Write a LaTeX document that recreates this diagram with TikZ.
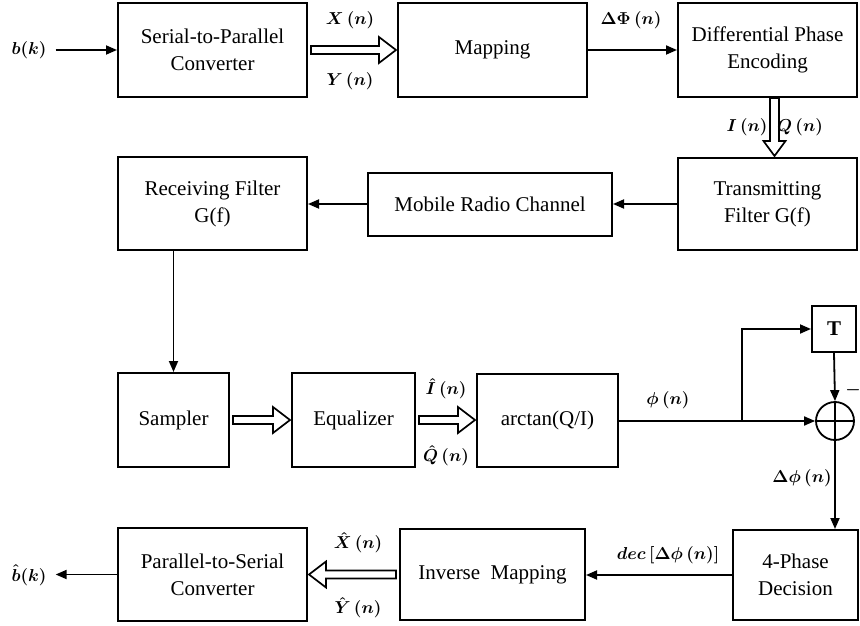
\documentclass[tikz,border=0pt]{standalone}
\usepackage{fontspec}
\setmainfont{Liberation Serif}
\usetikzlibrary{arrows.meta,calc}
\newcommand\fatR[2]{\draw[fat] let \p1=(#1.east), \p2=(#2.west) in
  (\x1+3pt,\y1+4pt) -- (\x2-18pt,\y1+4pt) -- (\x2-18pt,\y1+13pt) -- (\x2-1pt,\y1) --
  (\x2-18pt,\y1-13pt) -- (\x2-18pt,\y1-4pt) -- (\x1+3pt,\y1-4pt) -- cycle;}
\newcommand\fatL[2]{\draw[fat] let \p1=(#1.west), \p2=(#2.east) in
  (\x1-3pt,\y1+4pt) -- (\x2+18pt,\y1+4pt) -- (\x2+18pt,\y1+13pt) -- (\x2+1pt,\y1) --
  (\x2+18pt,\y1-13pt) -- (\x2+18pt,\y1-4pt) -- (\x1-3pt,\y1-4pt) -- cycle;}
\newcommand\fatD[3]{\draw[fat] let \p1=(#1.south), \p2=(#2.north) in
  (\x1+#3-4.5pt,\y1) -- (\x1+#3-4.5pt,\y2+16pt) -- (\x1+#3-11pt,\y2+16pt) -- (\x1+#3,\y2+1pt) --
  (\x1+#3+11pt,\y2+16pt) -- (\x1+#3+4.5pt,\y2+16pt) -- (\x1+#3+4.5pt,\y1) -- cycle;}
\begin{document}
\begin{tikzpicture}[x=1pt,y=-1pt,
  blk/.style={draw, line width=2pt, inner sep=0pt, align=center,
    font=\fontsize{21}{27}\selectfont},
  lbl/.style={inner sep=0pt, font=\fontsize{17}{20}\selectfont\boldmath},
  con/.style={line width=1.8pt, -{Triangle[length=11pt,width=9pt]}},
  fat/.style={line width=1.7pt, fill=white, line join=miter}]
\useasboundingbox (0,0) rectangle (860,626);

% row 1
\node[blk, minimum width=189pt, minimum height=94pt] (sp) at (212.5,50) {Serial-to-Parallel\\Converter};
\node[blk, minimum width=189pt, minimum height=94pt] (map) at (492.5,50) {Mapping};
\node[blk, minimum width=179pt, minimum height=94pt] (dpe) at (767.5,50) {Differential Phase\\Encoding};
% row 2
\node[blk, minimum width=179pt, minimum height=92pt] (tx) at (767.5,204) {Transmitting\\Filter G(f)};
\node[blk, minimum width=244pt, minimum height=63pt] (mrc) at (490,204) {Mobile Radio Channel};
\node[blk, minimum width=189pt, minimum height=93pt] (rx) at (212.5,203.5) {Receiving Filter\\G(f)};
% row 3
\node[blk, minimum width=111pt, minimum height=94pt] (sam) at (173.5,420) {Sampler};
\node[blk, minimum width=123pt, minimum height=94pt] (eq) at (353.5,420) {Equalizer};
\node[blk, minimum width=141pt, minimum height=93pt] (atan) at (547.5,420.5) {arctan(Q/I)};
\node[blk, minimum width=44pt, minimum height=46pt, font=\fontsize{21}{27}\selectfont\bfseries] (T) at (834,329) {T};
\node[draw, circle, line width=1.8pt, minimum size=38pt, inner sep=0pt] (sum) at (835,421) {};
\draw[line width=1.8pt] (sum.north) -- (sum.south) (sum.west) -- (sum.east);
% row 4
\node[blk, minimum width=125pt, minimum height=90pt] (dec) at (795.5,575) {4-Phase\\Decision};
\node[blk, minimum width=185pt, minimum height=91pt] (inv) at (492.5,574.5) {Inverse~~Mapping};
\node[blk, minimum width=189pt, minimum height=93pt] (ps) at (212.5,574.5) {Parallel-to-Serial\\Converter};

% input / output
\node[lbl] (bk) at (29,50) {$b(k)$};
\node[lbl] (bh) at (29,575) {$\hat b(k)$};
\draw[con] ([xshift=9pt]bk.east) -- (sp.west);
\draw[con] (ps.west) -- ([xshift=9pt]bh.east |- ps.west);

% connectors
\fatR{sp}{map}
\draw[con] (map.east) -- (dpe.west);
\fatD{dpe}{tx}{7pt}
\draw[con] (tx.west) -- (mrc.east |- tx.west);
\draw[con] (mrc.west) -- (rx.east |- mrc.west);
\draw[con] (rx.south -| sam.north) -- (sam.north);
\fatR{sam}{eq}
\fatR{eq}{atan}
\draw[con] (atan.east |- sum.west) -- (sum.west);
\coordinate (br) at (742,421);
\draw[con] (br) |- (T.west);
\draw[con] (T.south) -- (sum.north);
\draw[con] (sum.south) -- (sum.south |- dec.north);
\draw[con] (dec.west) -- (inv.east |- dec.west);
\fatL{inv}{ps}

% labels
\node[lbl] at (350,20) {$X\,(n)$};
\node[lbl] at (350,81) {$Y\,(n)$};
\node[lbl] at (631,20) {$\Delta\Phi\,(n)$};
\node[lbl] at (747,127) {$I\,(n)$};
\node[lbl] at (800,127) {$Q\,(n)$};
\node[lbl] at (446,389) {$\hat I\,(n)$};
\node[lbl] at (446,456) {$\hat Q\,(n)$};
\node[lbl] at (668,400) {$\phi\,(n)$};
\node[lbl] at (853,390) {$-$};
\node[lbl] at (802,478) {$\Delta\phi\,(n)$};
\node[lbl] at (668,555) {$dec\,[\Delta\phi\,(n)]$};
\node[lbl] at (358,543) {$\hat X\,(n)$};
\node[lbl] at (358,608) {$\hat Y\,(n)$};
\end{tikzpicture}
\end{document}
